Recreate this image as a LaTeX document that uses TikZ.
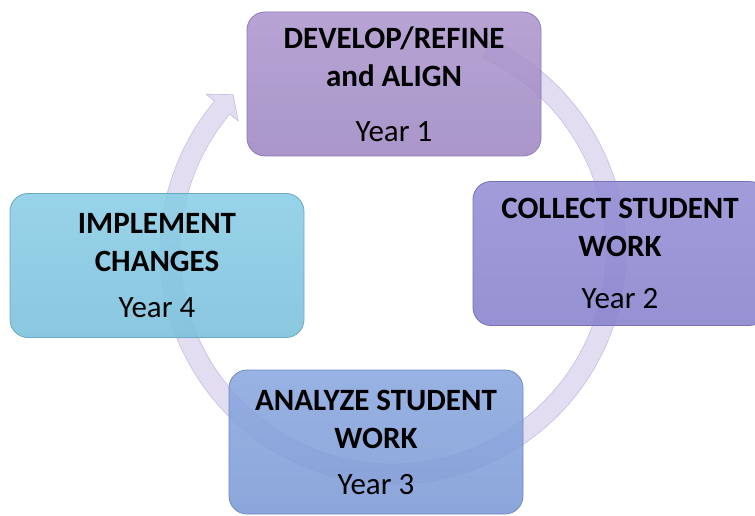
\documentclass[tikz,border=0pt]{standalone}
\usepackage{fontspec}
\setmainfont{Carlito}
\usetikzlibrary{calc}
\definecolor{bandfill}{HTML}{E2DDF0}
\definecolor{bandedge}{HTML}{C6BEE0}
\definecolor{c1top}{HTML}{AD97CE}
\definecolor{c1bot}{HTML}{9E88C2}
\definecolor{c1edge}{HTML}{8E7AB3}
\definecolor{c2top}{HTML}{948FD6}
\definecolor{c2bot}{HTML}{8782CC}
\definecolor{c2edge}{HTML}{7772B8}
\definecolor{c3top}{HTML}{8AA7DF}
\definecolor{c3bot}{HTML}{7C9AD6}
\definecolor{c3edge}{HTML}{6E8AC2}
\definecolor{c4top}{HTML}{89CDE6}
\definecolor{c4bot}{HTML}{7AC0DB}
\definecolor{c4edge}{HTML}{68A9C4}
\begin{document}
\begin{tikzpicture}[x=1pt,y=1pt,
  stagebox/.style={rounded corners=18pt, minimum width=294pt, minimum height=144pt,
    align=center, inner sep=0pt, font=\fontsize{31}{38}\selectfont,
    fill opacity=0.88, text opacity=1, draw opacity=1, line width=0.8pt},
  band/.style={fill=bandfill, draw=bandedge, line width=0.6pt, line join=round}
]
\useasboundingbox (0,0) rectangle (755,515);
\coordinate (O) at (393,264);
\coordinate (tip) at ($(O)+(140:223pt)+(50:17pt)$);
% circular arrow
\path[band] ($(O)+(65:233pt)$) arc[start angle=65, end angle=-220, radius=233pt]
  -- ($(O)+(140:244pt)$) -- (tip) -- ($(O)+(140:202pt)$) -- ($(O)+(140:213pt)$)
  arc[start angle=140, end angle=425, radius=213pt] -- cycle;
% stages
\node[stagebox, top color=c1top, bottom color=c1bot, draw=c1edge] (dev) at (394,431)
  {\textbf{DEVELOP/REFINE}\\\textbf{and ALIGN}\\[17pt]Year 1};
\node[stagebox, top color=c2top, bottom color=c2bot, draw=c2edge] (col) at (620,261.5)
  {\textbf{COLLECT STUDENT}\\\textbf{WORK}\\[14pt]Year 2};
\node[stagebox, top color=c3top, bottom color=c3bot, draw=c3edge] (ana) at (376,73)
  {\textbf{ANALYZE STUDENT}\\\textbf{WORK}\\[8pt]Year 3};
\node[stagebox, top color=c4top, bottom color=c4bot, draw=c4edge] (imp) at (157,249.5)
  {\textbf{IMPLEMENT}\\\textbf{CHANGES}\\[8pt]Year 4};
\end{tikzpicture}
\end{document}
